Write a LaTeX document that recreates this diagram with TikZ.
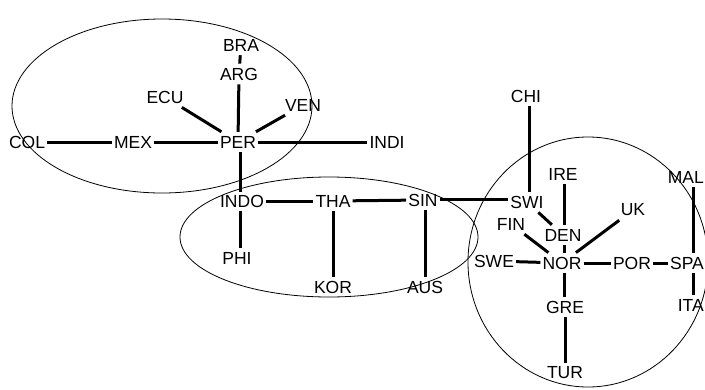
\documentclass[tikz,border=0pt]{standalone}
\usepackage{fontspec}
\setmainfont{Liberation Sans}
\begin{document}
\begin{tikzpicture}[x=1pt,y=-1pt,
  country/.style={inner xsep=2pt, inner ysep=4pt, font=\fontsize{17.5}{19}\selectfont},
  link/.style={line width=3pt},
  group/.style={draw, line width=0.8pt}]
\useasboundingbox (0,0) rectangle (705,389);
\clip (0,0) rectangle (705,389);
\fill[white] (0,0) rectangle (705,389);

% group outlines
\draw[group] (162,106) ellipse [x radius=150, y radius=87];
\draw[group] (329,237) ellipse [x radius=149, y radius=60];
\draw[group] (588,262) ellipse [x radius=120, y radius=125];

% countries
\node[country] (BRA)  at (241,45)  {BRA};
\node[country] (ARG)  at (239,74)  {ARG};
\node[country] (ECU)  at (165,97)  {ECU};
\node[country] (VEN)  at (303,105) {VEN};
\node[country] (COL)  at (27,142)  {COL};
\node[country] (MEX)  at (133,142) {MEX};
\node[country] (PER)  at (238,142) {PER};
\node[country] (INDI) at (387,142) {INDI};

\node[country] (INDO) at (242,201) {INDO};
\node[country] (THA)  at (333,201) {THA};
\node[country] (SIN)  at (423,200) {SIN};
\node[country] (PHI)  at (237,258) {PHI};
\node[country] (KOR)  at (333,287) {KOR};
\node[country] (AUS)  at (425,287) {AUS};

\node[country] (CHI)  at (526,96)  {CHI};
\node[country] (SWI)  at (527,202) {SWI};
\node[country] (IRE)  at (563,174) {IRE};
\node[country] (UK)   at (633,210) {UK};
\node[country] (FIN)  at (511,224) {FIN};
\node[country] (DEN)  at (563,235) {DEN};
\node[country] (SWE)  at (494,261) {SWE};
\node[country] (NOR)  at (562,263) {NOR};
\node[country] (POR)  at (632,263) {POR};
\node[country, anchor=east] (SPA) at (706,263) {SPA};
\node[country, anchor=east] (MAL) at (706,177) {MAL};
\node[country, anchor=east] (ITA) at (706,305) {ITA};
\node[country] (GRE)  at (565,307) {GRE};
\node[country] (TUR)  at (565,373) {TUR};

% links
\draw[link] (BRA) -- (ARG);
\draw[link] (ARG) -- (PER);
\draw[link] (ECU) -- (PER);
\draw[link] (VEN) -- (PER);
\draw[link] (COL) -- (MEX);
\draw[link] (MEX) -- (PER);
\draw[link] (PER) -- (INDI);
\draw[link] (PER.south -| 240,0) -- (240,192);

\draw[link] (INDO) -- (THA);
\draw[link] (THA) -- (SIN);
\draw[link] (INDO.south -| 240,0) -- (PHI.north -| 240,0);
\draw[link] (THA) -- (KOR);
\draw[link] (SIN.south -| 425,0) -- (AUS.north -| 425,0);
\draw[link] (SIN.east |- 0,199) -- (SWI.west |- 0,199);

\draw[link] (CHI.south -| 529,0) -- (SWI.north -| 529,0);
\draw[link] (SWI) -- (DEN);
\draw[link] (IRE.south -| 564,0) -- (DEN.north -| 564,0);
\draw[link] (FIN) -- (NOR);
\draw[link] (DEN.south -| 564,0) -- (NOR.north -| 564,0);
\draw[link] (UK) -- (NOR);
\draw[link] (SWE) -- (NOR);
\draw[link] (NOR) -- (POR);
\draw[link] (POR) -- (SPA);
\draw[link] (MAL.south -| 693,0) -- (SPA.north -| 693,0);
\draw[link] (SPA.south -| 693,0) -- (ITA.north -| 693,0);
\draw[link] (NOR.south -| 564,0) -- (GRE.north -| 564,0);
\draw[link] (GRE) -- (TUR);
\end{tikzpicture}
\end{document}
